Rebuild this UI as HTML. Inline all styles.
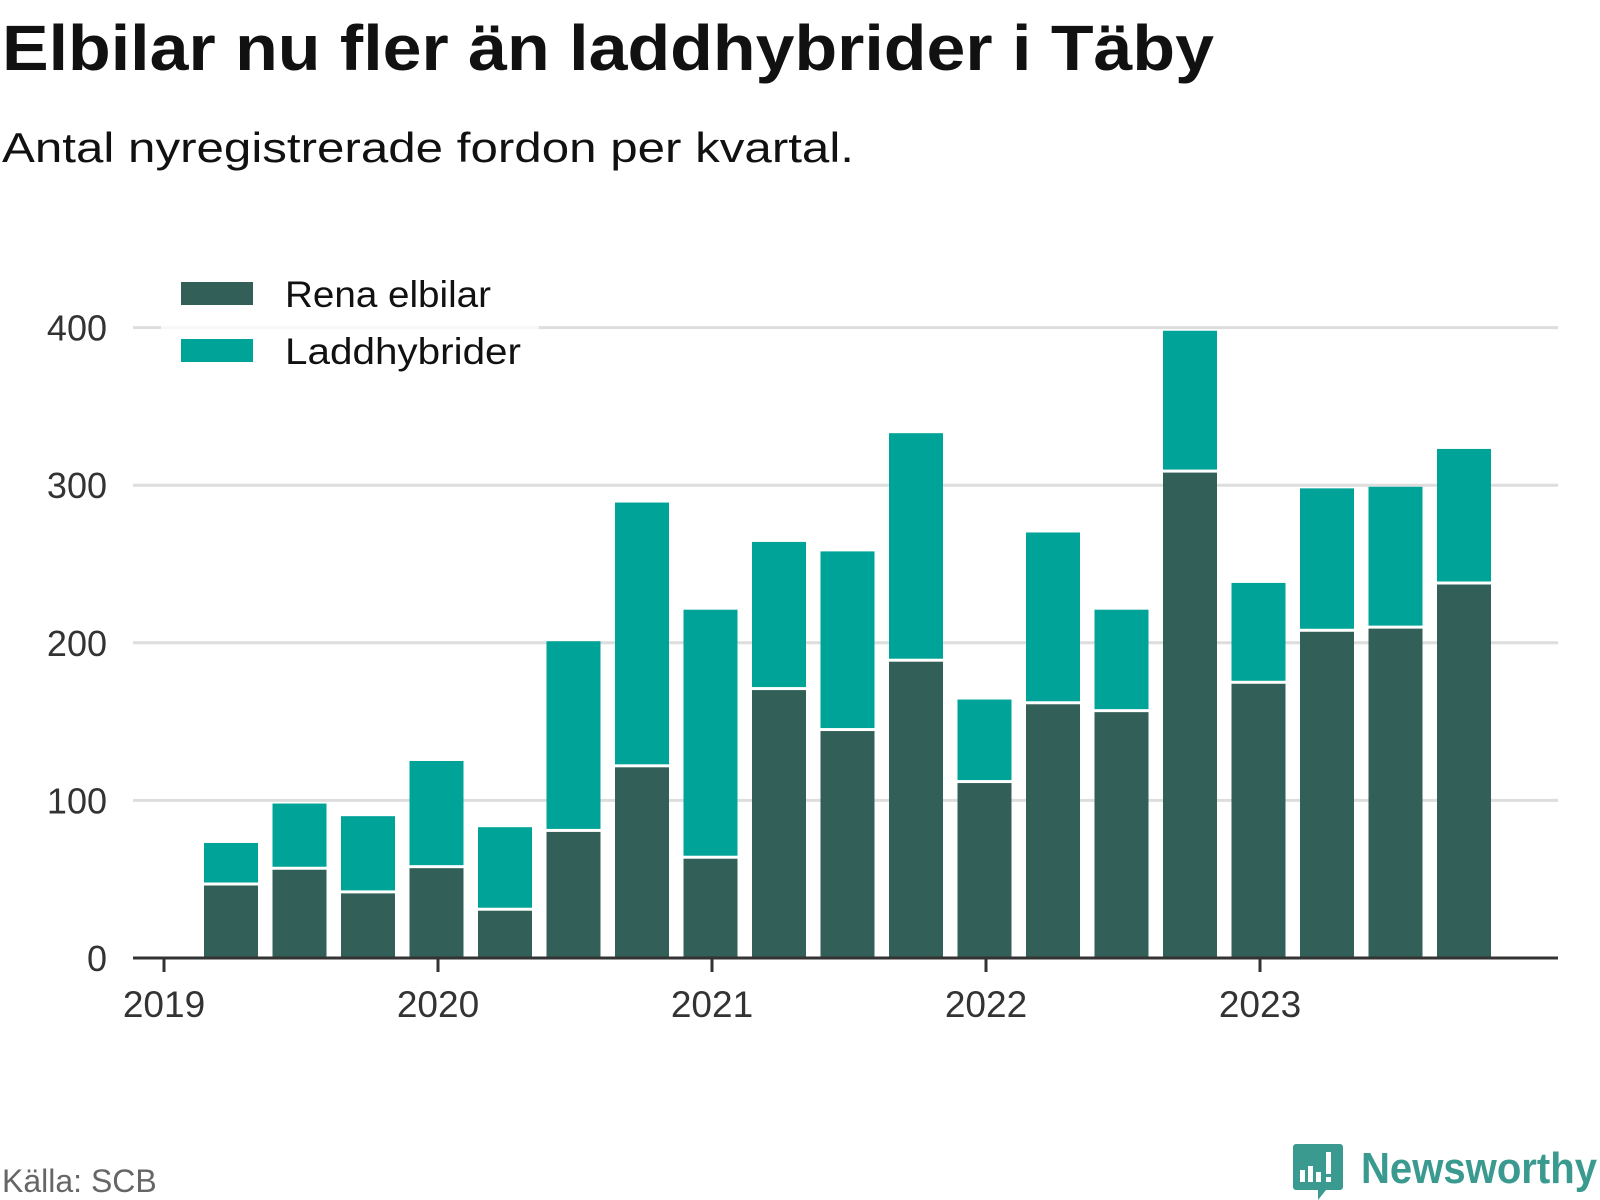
<!DOCTYPE html>
<html><head><meta charset="utf-8"><style>
body{margin:0;background:#fff;}
svg{display:block;font-family:"Liberation Sans",sans-serif;}
</style></head><body>
<svg id="chart" width="1600" height="1200" viewBox="0 0 1600 1200">
<text x="2" y="70" font-size="64" font-weight="bold" fill="#111" textLength="1212" lengthAdjust="spacingAndGlyphs">Elbilar nu fler än laddhybrider i Täby</text>
<text x="2" y="162" font-size="42" fill="#111" textLength="852" lengthAdjust="spacingAndGlyphs">Antal nyregistrerade fordon per kvartal.</text>
<g id="grid"></g>
<g id="bars"></g>
<g id="axes"></g>
<g>
<rect x="161" y="268" width="378" height="110" fill="#fff" fill-opacity="0.75"/>
<rect x="181" y="282" width="72" height="23" fill="#325f58"/>
<text x="285" y="307" font-size="37" fill="#111" textLength="206" lengthAdjust="spacingAndGlyphs">Rena elbilar</text>
<rect x="181" y="339" width="72" height="23" fill="#00a398"/>
<text x="285" y="364" font-size="37" fill="#111" textLength="236" lengthAdjust="spacingAndGlyphs">Laddhybrider</text>
</g>
<text x="2" y="1192" font-size="32" fill="#666">Källa: SCB</text>
<g>
<path d="M1296 1144 h44 a3 3 0 0 1 3 3 v40 a3 3 0 0 1 -3 3 h-14 l-8 10 v-10 h-22 a3 3 0 0 1 -3 -3 v-40 a3 3 0 0 1 3 -3z" fill="#3a9a8f"/>
<rect x="1300" y="1170" width="5" height="12" fill="#fff"/><rect x="1308" y="1166" width="5" height="16" fill="#fff"/><rect x="1316" y="1172" width="5" height="10" fill="#fff"/><rect x="1326" y="1152" width="5" height="22" fill="#fff"/><rect x="1326" y="1177" width="5" height="5" fill="#fff"/>
<text x="1361" y="1183" font-size="44" font-weight="bold" fill="#3a9a8f" textLength="236" lengthAdjust="spacingAndGlyphs">Newsworthy</text>
</g>
</svg>
<script>
const years=["2019","2020","2021","2022","2023"];
const yTicks=[0,100,200,300,400];
const elbilar=[46,56,41,57,30,80,121,63,170,144,188,111,161,156,308,174,207,209,237];
const laddhybrider=[27,42,49,68,53,121,168,158,94,114,145,53,109,65,90,64,91,90,86];
const NS="http://www.w3.org/2000/svg";
const y0=958, pxPer=1.576;
function y(v){return y0-v*pxPer;}
function xBar(i){return 231+68.5*i;}
function xYear(k){return 164+274*k;}
function mk(tag,attrs,parent){const e=document.createElementNS(NS,tag);for(const k in attrs)e.setAttribute(k,attrs[k]);parent.appendChild(e);return e;}
const grid=document.getElementById('grid'),bars=document.getElementById('bars'),axes=document.getElementById('axes');
yTicks.forEach(t=>{
 if(t>0){const l=mk('line',{x1:133,x2:1558,y1:y(t),y2:y(t),stroke:'#dddddd','stroke-width':3},grid);
 
 }
 const tx=mk('text',{x:107,y:y(t)+13,'font-size':36,fill:'#333','text-anchor':'end'},axes);
 tx.textContent=t;
 
 
});
const w=54;
elbilar.forEach((v,i)=>{
 const cx=xBar(i);
 const r1=mk('rect',{x:cx-w/2,y:y(v),width:w,height:v*pxPer,fill:'#325f58'},bars);
 
 
 const t=v+laddhybrider[i];
 const r2=mk('rect',{x:cx-w/2,y:y(t),width:w,height:Math.max(0,laddhybrider[i]*pxPer-3),fill:'#00a398'},bars);
 
 
});
const ax=mk('line',{x1:133,x2:1558,y1:y0,y2:y0,stroke:'#333','stroke-width':3},axes);


years.forEach((yr,k)=>{
 const x=xYear(k);
 const tk=mk('line',{x1:x,x2:x,y1:y0,y2:y0+14,stroke:'#333','stroke-width':3},axes);
 
 
 const tx=mk('text',{x:x,y:1017,'font-size':37,fill:'#333','text-anchor':'middle'},axes);
 tx.textContent=yr;
 
 
});
</script>
</body></html>
